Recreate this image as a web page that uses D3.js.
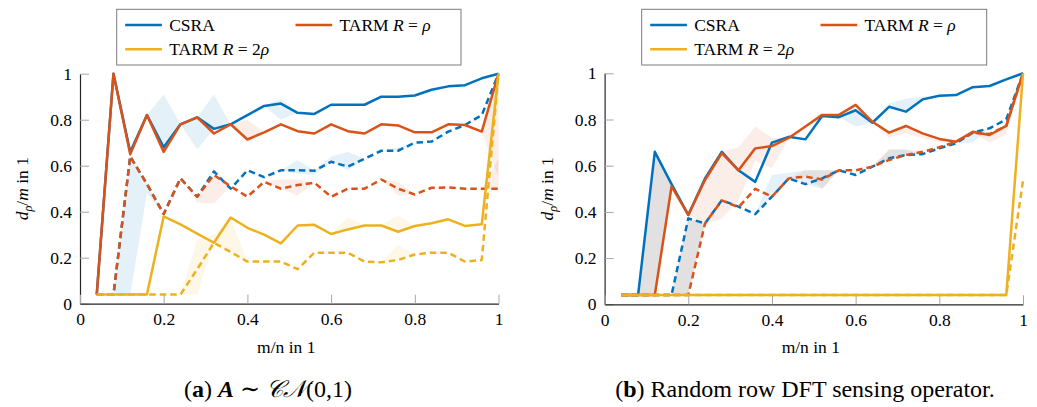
<!DOCTYPE html>
<html>
<head>
<meta charset="utf-8">
<script src="https://cdn.jsdelivr.net/npm/d3@7"></script>
<style>
  html, body { margin: 0; padding: 0; background: #fff; }
  svg { display: block; }
  svg text { font-family: "Liberation Serif", "DejaVu Serif", serif !important; fill: #000; }
</style>
</head>
<body>
<svg id="fig" width="1037" height="407"></svg>
<script>
// Sampling ratios m/n
const ratios = [0.04, 0.08, 0.12, 0.16, 0.20, 0.24, 0.28, 0.32, 0.36, 0.40, 0.44, 0.48, 0.52,
                0.56, 0.60, 0.64, 0.68, 0.72, 0.76, 0.80, 0.84, 0.88, 0.92, 0.96, 1.00];

const axisTicks = [0, 0.2, 0.4, 0.6, 0.8, 1];

const seriesNames = ["CSRA", "TARM R = ρ", "TARM R = 2ρ"];
const seriesColors = ["#0072BD", "#D95319", "#EDB120"];

// (a) Gaussian sensing matrix — solid and dashed curves
const aCsraSolid   = [0.04, 1.00, 0.66, 0.82, 0.68, 0.78, 0.81, 0.76, 0.78, 0.82, 0.86, 0.87, 0.83,
                      0.825, 0.865, 0.865, 0.865, 0.90, 0.90, 0.905, 0.93, 0.945, 0.95, 0.98, 1.00];
const aCsraDashed  = [0.04, 0.04, 0.64, 0.52, 0.39, 0.545, 0.465, 0.575, 0.50, 0.58, 0.55, 0.58, 0.58,
                      0.578, 0.617, 0.596, 0.63, 0.665, 0.665, 0.70, 0.705, 0.748, 0.777, 0.82, 1.00];
const aTarmSolid   = [0.04, 1.00, 0.65, 0.82, 0.66, 0.78, 0.81, 0.74, 0.78, 0.714, 0.745, 0.78, 0.75,
                      0.74, 0.78, 0.75, 0.74, 0.78, 0.775, 0.745, 0.745, 0.78, 0.777, 0.748, 1.00];
const aTarmDashed  = [0.04, 0.04, 0.64, 0.52, 0.39, 0.545, 0.465, 0.56, 0.51, 0.465, 0.53, 0.50, 0.516,
                      0.526, 0.465, 0.50, 0.50, 0.54, 0.50, 0.475, 0.504, 0.505, 0.50, 0.50, 0.50];
const aTarm2Solid  = [0.04, 0.04, 0.04, 0.04, 0.38, 0.345, 0.305, 0.265, 0.375, 0.33, 0.30, 0.262, 0.34,
                      0.343, 0.303, 0.323, 0.34, 0.34, 0.313, 0.338, 0.35, 0.367, 0.338, 0.345, 1.00];
const aTarm2Dashed = [0.04, 0.04, 0.04, 0.04, 0.04, 0.04, 0.15, 0.265, 0.225, 0.183, 0.183, 0.183, 0.15,
                      0.222, 0.222, 0.222, 0.183, 0.18, 0.19, 0.214, 0.222, 0.222, 0.183, 0.19, 1.00];

// (a) spread around each curve: index -> bound (other indices follow the curve)
const aCsraSolidHi   = {4: 0.91, 7: 0.91, 11: 0.89};
const aCsraSolidLo   = {6: 0.67, 11: 0.80};
const aCsraDashedHi  = {7: 0.59, 12: 0.625, 14: 0.64, 15: 0.66, 18: 0.68};
const aCsraDashedLo  = {2: 0.04, 3: 0.48, 12: 0.565, 13: 0.56, 15: 0.58};
const aTarmSolidHi   = {9: 0.80};
const aTarmSolidLo   = {24: 0.55};
const aTarmDashedHi  = {11: 0.54, 12: 0.54, 18: 0.53, 24: 0.63};
const aTarmDashedLo  = {6: 0.44, 7: 0.436, 12: 0.47, 18: 0.47};
const aTarm2SolidHi  = {15: 0.375, 18: 0.385};
const aTarm2SolidLo  = {};
const aTarm2DashedHi = {6: 0.28, 7: 0.30, 8: 0.37, 18: 0.255};
const aTarm2DashedLo = {6: 0.04, 8: 0.21};

// (b) random row DFT operator — solid and dashed curves
const bCsraSolid   = [0.04, 0.04, 0.66, 0.52, 0.387, 0.545, 0.66, 0.58, 0.53, 0.70, 0.725, 0.714, 0.815,
                      0.81, 0.84, 0.786, 0.855, 0.834, 0.887, 0.903, 0.906, 0.94, 0.945, 0.974, 1.00];
const bCsraDashed  = [0.04, 0.04, 0.04, 0.04, 0.372, 0.35, 0.45, 0.423, 0.39, 0.466, 0.545, 0.52, 0.545,
                      0.58, 0.56, 0.596, 0.632, 0.646, 0.65, 0.675, 0.697, 0.743, 0.762, 0.80, 1.00];
const bTarmSolid   = [0.04, 0.04, 0.04, 0.51, 0.387, 0.538, 0.654, 0.58, 0.675, 0.685, 0.72, 0.77, 0.82,
                      0.82, 0.863, 0.79, 0.743, 0.772, 0.74, 0.716, 0.704, 0.747, 0.733, 0.772, 1.00];
const bTarmDashed  = [0.04, 0.04, 0.04, 0.04, 0.04, 0.35, 0.45, 0.42, 0.50, 0.466, 0.545, 0.553, 0.54,
                      0.58, 0.58, 0.596, 0.625, 0.646, 0.66, 0.68, 0.704, 0.743, 0.737, 0.772, 1.00];
const bTarm2Solid  = [0.04, 0.04, 0.04, 0.04, 0.04, 0.04, 0.04, 0.04, 0.04, 0.04, 0.04, 0.04, 0.04,
                      0.04, 0.04, 0.04, 0.04, 0.04, 0.04, 0.04, 0.04, 0.04, 0.04, 0.04, 1.00];
const bTarm2Dashed = [0.04, 0.04, 0.04, 0.04, 0.04, 0.04, 0.04, 0.04, 0.04, 0.04, 0.04, 0.04, 0.04,
                      0.04, 0.04, 0.04, 0.04, 0.04, 0.04, 0.04, 0.04, 0.04, 0.04, 0.04, 0.535];

// (b) spread around each curve
const bCsraSolidHi   = {16: 0.87, 17: 0.89, 18: 0.90};
const bCsraSolidLo   = {2: 0.04, 3: 0.51, 14: 0.77};
const bCsraDashedHi  = {9: 0.56, 10: 0.57, 11: 0.58, 12: 0.58, 16: 0.67, 17: 0.67};
const bCsraDashedLo  = {4: 0.04, 12: 0.50, 21: 0.70};
const bTarmSolidHi   = {2: 0.66, 6: 0.66, 7: 0.68, 8: 0.77, 9: 0.72};
const bTarmSolidLo   = {5: 0.35, 6: 0.37, 7: 0.45, 8: 0.62, 9: 0.59, 16: 0.72, 17: 0.74, 18: 0.72,
                        19: 0.70, 22: 0.70, 23: 0.735};
const bTarmDashedHi  = {4: 0.372, 11: 0.58, 12: 0.58, 16: 0.67, 17: 0.67};
const bTarmDashedLo  = {5: 0.35, 12: 0.50};
const bTarm2SolidHi  = {};
const bTarm2SolidLo  = {};
const bTarm2DashedHi = {};
const bTarm2DashedLo = {};

const panels = [
  {
    box: {x0: 80, x1: 498.5, y0: 303.7, y1: 73.7},
    legend: {x: 116.7, y: 9.3, w: 344.3, h: 55.7, col2: 170.3},
    caption: {x: 268, y: 397},
    curves: [
      {c: 0, dash: false, v: aCsraSolid,   hi: aCsraSolidHi,   lo: aCsraSolidLo},
      {c: 0, dash: true,  v: aCsraDashed,  hi: aCsraDashedHi,  lo: aCsraDashedLo},
      {c: 1, dash: false, v: aTarmSolid,   hi: aTarmSolidHi,   lo: aTarmSolidLo},
      {c: 1, dash: true,  v: aTarmDashed,  hi: aTarmDashedHi,  lo: aTarmDashedLo},
      {c: 2, dash: false, v: aTarm2Solid,  hi: aTarm2SolidHi,  lo: aTarm2SolidLo},
      {c: 2, dash: true,  v: aTarm2Dashed, hi: aTarm2DashedHi, lo: aTarm2DashedLo}
    ]
  },
  {
    box: {x0: 604.6, x1: 1023, y0: 304.3, y1: 73.3},
    legend: {x: 641.7, y: 9.3, w: 345, h: 55.7, col2: 170.3},
    caption: {x: 805, y: 397},
    curves: [
      {c: 0, dash: false, v: bCsraSolid,   hi: bCsraSolidHi,   lo: bCsraSolidLo},
      {c: 0, dash: true,  v: bCsraDashed,  hi: bCsraDashedHi,  lo: bCsraDashedLo},
      {c: 1, dash: false, v: bTarmSolid,   hi: bTarmSolidHi,   lo: bTarmSolidLo},
      {c: 1, dash: true,  v: bTarmDashed,  hi: bTarmDashedHi,  lo: bTarmDashedLo},
      {c: 2, dash: false, v: bTarm2Solid,  hi: bTarm2SolidHi,  lo: bTarm2SolidLo},
      {c: 2, dash: true,  v: bTarm2Dashed, hi: bTarm2DashedHi, lo: bTarm2DashedLo}
    ]
  }
];

const SERIF = "'Liberation Serif', 'DejaVu Serif', serif";
const svg = d3.select("#fig").style("font-family", SERIF);
const FS = 17.5;
const tickFmt = d => (d === 0 ? "0" : d === 1 ? "1" : d3.format(".1f")(d));

panels.forEach((p, pi) => {
  const x = d3.scaleLinear().domain([0, 1]).range([p.box.x0, p.box.x1]);
  const y = d3.scaleLinear().domain([0, 1]).range([p.box.y0, p.box.y1]);
  const g = svg.append("g");

  // spread bands
  const area = d3.area()
    .x(d => x(d.r))
    .y0(d => y(d.lo))
    .y1(d => y(d.hi));
  p.curves.forEach(cv => {
    const pts = ratios.map((r, i) => ({
      r,
      lo: cv.lo[i] !== undefined ? cv.lo[i] : cv.v[i],
      hi: cv.hi[i] !== undefined ? cv.hi[i] : cv.v[i]
    }));
    g.append("path")
      .attr("d", area(pts))
      .attr("fill", seriesColors[cv.c])
      .attr("fill-opacity", 0.1)
      .attr("stroke", "none");
  });

  // axes
  const yAxis = d3.axisLeft(y).tickValues(axisTicks).tickFormat(tickFmt)
    .tickSizeInner(-9).tickSizeOuter(0).tickPadding(8);
  const xAxis = d3.axisBottom(x).tickValues(axisTicks).tickFormat(tickFmt)
    .tickSizeInner(-9).tickSizeOuter(0).tickPadding(9);

  const ya = g.append("g").attr("transform", `translate(${p.box.x0},0)`).call(yAxis);
  const xa = g.append("g").attr("transform", `translate(0,${p.box.y0})`).call(xAxis);
  [ya, xa].forEach(a => {
    a.attr("font-family", null).attr("font-size", null);
    a.select(".domain").attr("stroke", "#262626").attr("stroke-width", 1.2);
    a.selectAll(".tick line").attr("stroke", "#a6a6a6").attr("stroke-width", 1);
    a.selectAll(".tick text")
      .style("font-family", SERIF)
      .style("font-size", FS + "px")
      .attr("fill", "#000");
  });

  // curves
  const line = d3.line().x((d, i) => x(ratios[i])).y(d => y(d));
  p.curves.forEach(cv => {
    g.append("path")
      .attr("d", line(cv.v))
      .attr("fill", "none")
      .attr("stroke", seriesColors[cv.c])
      .attr("stroke-width", 2.5)
      .attr("stroke-linejoin", "round")
      .attr("stroke-dasharray", cv.dash ? "6.5,4" : null);
  });

  // axis labels
  const cx = (p.box.x0 + p.box.x1) / 2;
  g.append("text")
    .attr("x", cx - 3).attr("y", 353)
    .attr("text-anchor", "middle")
    .style("font-family", SERIF)
    .style("font-size", FS + "px")
    .text("m/n in 1");

  const yl = g.append("text")
    .attr("transform", `translate(${p.box.x0 - 52},${(p.box.y0 + p.box.y1) / 2}) rotate(-90)`)
    .attr("text-anchor", "middle")
    .style("font-family", SERIF)
    .style("font-size", FS + "px");
  yl.append("tspan").attr("font-style", "italic").text("d");
  yl.append("tspan").attr("font-style", "italic").style("font-size", (FS * 0.7) + "px").attr("dy", 4).text("ρ");
  yl.append("tspan").attr("dy", -4).text("/");
  yl.append("tspan").attr("font-style", "italic").text("m");
  yl.append("tspan").text(" in 1");

  // legend
  const L = p.legend;
  const lg = g.append("g").attr("transform", `translate(${L.x},${L.y})`);
  lg.append("rect")
    .attr("width", L.w).attr("height", L.h)
    .attr("fill", "#fff").attr("stroke", "#7a7a7a").attr("stroke-width", 1);
  const entries = [
    {c: 0, col: 0, row: 0},
    {c: 1, col: 1, row: 0},
    {c: 2, col: 0, row: 1}
  ];
  entries.forEach(e => {
    const ex = 8.5 + e.col * L.col2;
    const ey = 15.7 + e.row * 24.3;
    lg.append("line")
      .attr("x1", ex).attr("x2", ex + 36.7)
      .attr("y1", ey).attr("y2", ey)
      .attr("stroke", seriesColors[e.c]).attr("stroke-width", 2.5);
    const t = lg.append("text")
      .attr("x", ex + 44).attr("y", ey + 6)
      .style("font-family", SERIF)
      .style("font-size", FS + "px");
    if (e.c === 0) {
      t.text(seriesNames[0]);
    } else {
      t.append("tspan").text("TARM ");
      t.append("tspan").attr("font-style", "italic").text("R");
      t.append("tspan").text(e.c === 1 ? " = " : " = 2");
      t.append("tspan").attr("font-style", "italic").text("ρ");
    }
  });

  // caption
  const cap = g.append("text")
    .attr("x", p.caption.x).attr("y", p.caption.y)
    .attr("text-anchor", "middle")
    .style("font-family", SERIF)
    .style("font-size", "24px");
  if (pi === 0) {
    cap.append("tspan").text("(");
    cap.append("tspan").attr("font-weight", "bold").text("a");
    cap.append("tspan").text(") ");
    cap.append("tspan").attr("font-weight", "bold").attr("font-style", "italic").text("A");
    cap.append("tspan").text(" ∼ ");
    cap.append("tspan").attr("font-style", "italic").text("𝒞𝒩");
    cap.append("tspan").text("(0,1)");
  } else {
    cap.append("tspan").text("(");
    cap.append("tspan").attr("font-weight", "bold").text("b");
    cap.append("tspan").text(") Random row DFT sensing operator.");
  }
});
</script>
</body>
</html>
